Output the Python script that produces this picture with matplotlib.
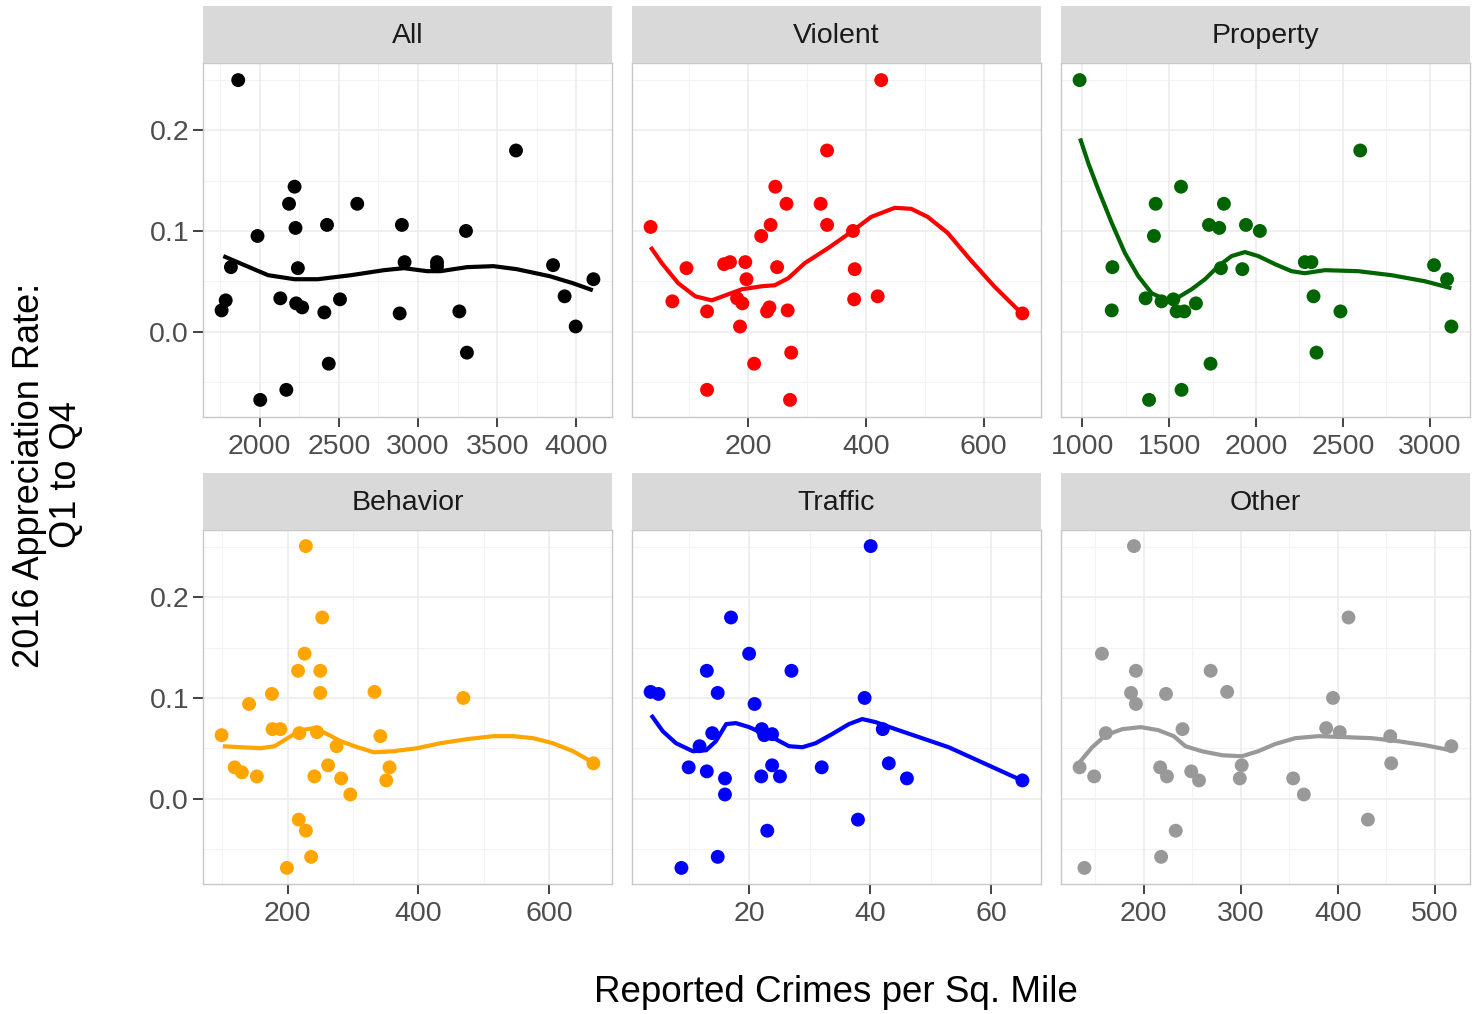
import matplotlib
matplotlib.use("Agg")
import matplotlib.pyplot as plt
import numpy as np

plt.rcParams["font.family"] = ["Liberation Sans", "DejaVu Sans"]

# ---- data ----
ALL_X = [1864, 3619, 2220, 2185, 2616, 2226, 2425, 2898, 3303, 1986, 2915, 3120, 3120,
         3853, 1818, 2241, 4108, 1785, 2130, 2507, 3926, 2230, 2268, 1759, 2408, 2884,
         3261, 3996, 3309, 2436, 2168, 2003]
ALL_Y = [0.250, 0.180, 0.144, 0.127, 0.127, 0.103, 0.106, 0.106, 0.100, 0.095, 0.069, 0.069,
         0.065, 0.066, 0.064, 0.063, 0.052, 0.031, 0.033, 0.032, 0.035, 0.028, 0.024, 0.021,
         0.019, 0.018, 0.020, 0.005, -0.021, -0.032, -0.058, -0.068]
ALL_FIT_X = [1770, 1948, 2053, 2220, 2367, 2576, 2785, 2911, 3058, 3141, 3309, 3476, 3623,
             3832, 3979, 4104]
ALL_FIT_Y = [0.075, 0.063, 0.056, 0.052, 0.052, 0.056, 0.061, 0.063, 0.060, 0.060, 0.064,
             0.065, 0.062, 0.055, 0.048, 0.041]

VIOLENT_X = [426, 334, 246, 265, 323, 238, 334, 34, 378, 222, 169, 159, 195, 95, 249, 381,
             197, 71, 181, 420, 380, 190, 130, 236, 232, 267, 666, 186, 273, 210, 130, 271]
VIOLENT_Y = [0.250, 0.180, 0.144, 0.127, 0.127, 0.106, 0.106, 0.104, 0.100, 0.095, 0.069,
             0.067, 0.069, 0.063, 0.064, 0.062, 0.052, 0.030, 0.033, 0.035, 0.032, 0.028,
             0.020, 0.024, 0.020, 0.021, 0.018, 0.005, -0.021, -0.032, -0.058, -0.068]
VIOLENT_FIT_X = [34, 53, 81, 110, 138, 166, 189, 223, 245, 268, 296, 336, 375, 409, 449,
                 477, 505, 539, 578, 618, 663]
VIOLENT_FIT_Y = [0.084, 0.068, 0.048, 0.035, 0.031, 0.037, 0.042, 0.045, 0.046, 0.053,
                 0.068, 0.083, 0.099, 0.114, 0.123, 0.122, 0.114, 0.098, 0.071, 0.045, 0.019]

PROPERTY_X = [984, 2600, 1568, 1422, 1815, 1729, 1788, 1942, 2022, 1412, 2281, 2319, 1173,
              3025, 1798, 1921, 3100, 1364, 1456, 1524, 1654, 2331, 1543, 1587, 1169, 2486,
              3125, 2348, 1738, 1571, 1384]
PROPERTY_Y = [0.250, 0.180, 0.144, 0.127, 0.127, 0.106, 0.103, 0.106, 0.100, 0.095, 0.069,
              0.069, 0.064, 0.066, 0.063, 0.062, 0.052, 0.033, 0.030, 0.032, 0.028, 0.035,
              0.020, 0.020, 0.021, 0.020, 0.005, -0.021, -0.032, -0.058, -0.068]
PROPERTY_FIT_X = [987, 1035, 1092, 1169, 1245, 1322, 1399, 1476, 1552, 1629, 1706, 1783,
                  1859, 1936, 2013, 2109, 2204, 2281, 2397, 2588, 2780, 2972, 3125]
PROPERTY_FIT_Y = [0.192, 0.167, 0.141, 0.108, 0.078, 0.055, 0.038, 0.032, 0.034, 0.042,
                  0.052, 0.065, 0.075, 0.079, 0.075, 0.067, 0.060, 0.058, 0.061, 0.060,
                  0.056, 0.050, 0.043]

BEHAVIOR_X = [228, 253, 226, 216, 250, 176, 250, 141, 333, 469, 177, 189, 218, 245, 99, 342,
              275, 668, 119, 130, 262, 356, 153, 241, 282, 351, 296, 217, 228, 236, 199]
BEHAVIOR_Y = [0.251, 0.180, 0.144, 0.127, 0.127, 0.104, 0.105, 0.094, 0.106, 0.100, 0.069,
              0.069, 0.065, 0.066, 0.063, 0.062, 0.052, 0.035, 0.031, 0.026, 0.033, 0.031,
              0.022, 0.022, 0.020, 0.018, 0.004, -0.021, -0.032, -0.058, -0.069]
BEHAVIOR_FIT_X = [101, 129, 159, 180, 200, 220, 241, 261, 281, 307, 332, 362, 398, 434, 474,
                  515, 545, 576, 606, 637, 667]
BEHAVIOR_FIT_Y = [0.052, 0.051, 0.050, 0.052, 0.060, 0.068, 0.070, 0.064, 0.057, 0.051,
                  0.046, 0.047, 0.050, 0.055, 0.059, 0.062, 0.062, 0.060, 0.055, 0.047, 0.036]

TRAFFIC_X = [40.1, 17.0, 20.0, 13.0, 27.0, 3.7, 5.0, 14.8, 39.1, 20.9, 13.9, 22.1, 23.8,
             22.5, 42.1, 11.8, 65.2, 10.0, 13.0, 23.8, 32.0, 43.1, 16.0, 22.0, 25.1, 46.1,
             16.0, 38.0, 23.0, 14.8, 8.8]
TRAFFIC_Y = [0.251, 0.180, 0.144, 0.127, 0.127, 0.106, 0.104, 0.105, 0.100, 0.094, 0.065,
             0.069, 0.064, 0.063, 0.069, 0.052, 0.018, 0.031, 0.027, 0.033, 0.031, 0.035,
             0.020, 0.022, 0.022, 0.020, 0.004, -0.021, -0.032, -0.058, -0.069]
TRAFFIC_FIT_X = [3.8, 5.7, 7.9, 10.7, 12.9, 14.5, 16.2, 17.8, 20.0, 22.2, 24.4, 26.6, 28.8,
                 31.0, 33.7, 36.5, 38.7, 40.9, 44.2, 48.6, 53.0, 57.4, 61.8, 65.1]
TRAFFIC_FIT_Y = [0.083, 0.067, 0.055, 0.047, 0.048, 0.057, 0.074, 0.075, 0.071, 0.065,
                 0.059, 0.052, 0.051, 0.055, 0.064, 0.074, 0.079, 0.076, 0.069, 0.060,
                 0.051, 0.039, 0.027, 0.018]

OTHER_X = [190, 411, 157, 192, 269, 187, 192, 223, 286, 395, 240, 161, 388, 402, 454, 517,
           301, 455, 134, 217, 249, 149, 224, 257, 299, 354, 365, 431, 233, 218, 139]
OTHER_Y = [0.251, 0.180, 0.144, 0.127, 0.127, 0.105, 0.094, 0.104, 0.106, 0.100, 0.069,
           0.065, 0.070, 0.066, 0.062, 0.052, 0.033, 0.035, 0.031, 0.031, 0.027, 0.022,
           0.022, 0.018, 0.020, 0.020, 0.004, -0.021, -0.032, -0.058, -0.069]
OTHER_FIT_X = [134, 147, 161, 178, 197, 215, 231, 243, 260, 281, 301, 318, 335, 356, 380,
               408, 435, 462, 490, 516]
OTHER_FIT_Y = [0.036, 0.051, 0.063, 0.069, 0.071, 0.068, 0.062, 0.052, 0.047, 0.043, 0.042,
               0.047, 0.054, 0.060, 0.062, 0.061, 0.060, 0.057, 0.053, 0.048]

PANEL_NAMES = ["All", "Violent", "Property", "Behavior", "Traffic", "Other"]
PANEL_COLORS = ["#000000", "#FF0000", "#006400", "#FFA500", "#0000FF", "#999999"]
PANEL_XTICKS = [
    [2000, 2500, 3000, 3500, 4000],
    [200, 400, 600],
    [1000, 1500, 2000, 2500, 3000],
    [200, 400, 600],
    [20, 40, 60],
    [200, 300, 400, 500],
]
Y_TICKS = [0.0, 0.1, 0.2]
Y_TICK_LABELS = ["0.0", "0.1", "0.2"]

panels = [
    (ALL_X, ALL_Y, ALL_FIT_X, ALL_FIT_Y),
    (VIOLENT_X, VIOLENT_Y, VIOLENT_FIT_X, VIOLENT_FIT_Y),
    (PROPERTY_X, PROPERTY_Y, PROPERTY_FIT_X, PROPERTY_FIT_Y),
    (BEHAVIOR_X, BEHAVIOR_Y, BEHAVIOR_FIT_X, BEHAVIOR_FIT_Y),
    (TRAFFIC_X, TRAFFIC_Y, TRAFFIC_FIT_X, TRAFFIC_FIT_Y),
    (OTHER_X, OTHER_Y, OTHER_FIT_X, OTHER_FIT_Y),
]

W, H = 1474, 1014
fig = plt.figure(figsize=(W / 100, H / 100), dpi=100)

col_left = [203, 632, 1061]
panel_w = 409
row_top = [63, 530]
panel_h = 354
strip_h = 57

all_y = np.concatenate([np.array(p[1]) for p in panels])
y_span = all_y.max() - all_y.min()
y_lim = (all_y.min() - 0.05 * y_span, all_y.max() + 0.05 * y_span)


def minor_breaks(major, lo, hi):
    step = major[1] - major[0]
    vals = np.arange(major[0] - step / 2, major[-1] + step, step)
    return [v for v in vals if lo <= v <= hi]


for i, (xs, ys, fx, fy) in enumerate(panels):
    r, c = divmod(i, 3)
    left = col_left[c] / W
    bottom = 1 - (row_top[r] + panel_h) / H
    ax = fig.add_axes([left, bottom, panel_w / W, panel_h / H])

    x_arr = np.array(xs)
    x_span = x_arr.max() - x_arr.min()
    x_lim = (x_arr.min() - 0.05 * x_span, x_arr.max() + 0.05 * x_span)

    for v in minor_breaks(PANEL_XTICKS[i], *x_lim):
        ax.axvline(v, color="#F3F3F3", lw=0.8, zorder=0)
    for v in minor_breaks([-0.1] + Y_TICKS, *y_lim):
        ax.axhline(v, color="#F3F3F3", lw=0.8, zorder=0)
    for v in PANEL_XTICKS[i]:
        ax.axvline(v, color="#ECECEC", lw=1.2, zorder=0)
    for v in Y_TICKS:
        ax.axhline(v, color="#ECECEC", lw=1.2, zorder=0)

    ax.scatter(xs, ys, s=100, color=PANEL_COLORS[i], edgecolors="none", zorder=3)
    ax.plot(fx, fy, color=PANEL_COLORS[i], lw=3.0, zorder=4,
            solid_capstyle="butt", solid_joinstyle="round")

    ax.set_xlim(x_lim)
    ax.set_ylim(y_lim)
    ax.set_xticks(PANEL_XTICKS[i])
    ax.set_xticklabels([str(t) for t in PANEL_XTICKS[i]])
    ax.set_yticks(Y_TICKS)
    ax.tick_params(axis="both", labelsize=20.5, labelcolor="#4D4D4D", color="#333333",
                   width=1.3, length=7)
    ax.tick_params(axis="x", pad=5)
    ax.tick_params(axis="y", pad=3)
    if c == 0:
        ax.set_yticklabels(Y_TICK_LABELS)
    else:
        ax.set_yticklabels([])
        ax.tick_params(axis="y", length=0)
    for sp in ax.spines.values():
        sp.set_color("#C8C8C8")
        sp.set_linewidth(1.0)

    sax = fig.add_axes([left, 1 - row_top[r] / H, panel_w / W, strip_h / H])
    sax.set_facecolor("#D9D9D9")
    sax.set_xticks([])
    sax.set_yticks([])
    for sp in sax.spines.values():
        sp.set_visible(False)
    sax.text(0.5, 0.47, PANEL_NAMES[i], ha="center", va="center", fontsize=20.5,
             color="#1A1A1A", transform=sax.transAxes)

fig.text(836 / W, 1 - 993 / H, "Reported Crimes per Sq. Mile", ha="center", va="center",
         fontsize=26.5, color="#000000")
fig.text(48 / W, 1 - 475 / H, "2016 Appreciation Rate:\nQ1 to Q4", ha="center",
         va="center", rotation=90, fontsize=26, color="#000000", linespacing=1.1)

fig.savefig("out.png", dpi=100)
